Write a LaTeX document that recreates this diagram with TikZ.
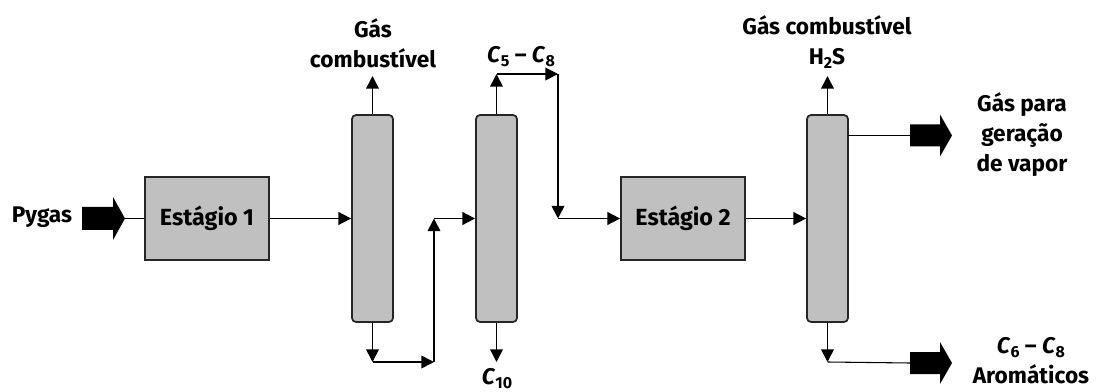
\documentclass[tikz,border=0pt]{standalone}
\usepackage{fontspec}
\setmainfont{Fira Sans}
\usetikzlibrary{arrows.meta}
\newcommand{\sbx}[1]{\raisebox{-0.18em}{\fontsize{12}{12}\selectfont #1}}
\begin{document}
\begin{tikzpicture}[x=0.75pt,y=-0.75pt,
  lbl/.style={font=\bfseries\fontsize{17}{22.5}\selectfont, align=center, inner sep=0pt},
  stagebox/.style={draw=black!85, line width=1.3pt, fill=boxgray,
    minimum width=93pt, minimum height=62.25pt, inner sep=0pt,
    font=\bfseries\fontsize{17.5}{20}\selectfont},
  column/.style={draw=black!85, line width=1.3pt, fill=boxgray, rounded corners=3pt,
    minimum width=30.75pt, minimum height=155.25pt, inner sep=0pt},
  flow/.style={line width=1.25pt, -{Triangle[length=9.5pt,width=9.5pt]}},
  thin/.style={line width=0.8pt},
  fatarrow/.style={fill=black}
]
\definecolor{boxgray}{RGB}{192,192,192}
\useasboundingbox (0,0) rectangle (1097,392);

% fat arrows
\fill[fatarrow] (82,207) -- (113,207) -- (113,197) -- (125,218.5) -- (113,240) -- (113,230) -- (82,230) -- cycle;
\coordinate (pyt) at (125,218.5);
\fill[fatarrow] (910,124.5) -- (940,124.5) -- (940,114.5) -- (952,135.5) -- (940,156.5) -- (940,146.5) -- (910,146.5) -- cycle;
\coordinate (fa1) at (910,135.5);
\fill[fatarrow] (910,352) -- (940,352) -- (940,342) -- (952,363) -- (940,384) -- (940,374) -- (910,374) -- cycle;
\coordinate (fa2) at (910,363);

% units
\node[stagebox] (st1) at (207,218.5) {Estágio 1};
\node[stagebox] (st2) at (683,218.5) {Estágio 2};
\node[column] (col1) at (372.5,218.5) {};
\node[column] (col2) at (496.5,218.5) {};
\node[column] (col3) at (827.5,218.5) {};

% labels
\node[lbl] (pyg) at (42,217) {Pygas};
\node[lbl] (gc1) at (373,43) {Gás\\combustível};
\node[lbl] (c58) at (521,57) {\textit{C}\sbx{5} – \textit{C}\sbx{8}};
\node[lbl] (c10) at (497,379) {\textit{C}\sbx{10}};
\node[lbl] (gc2) at (827,42) {Gás combustível\\H\sbx{2}S};
\node[lbl] (gpv) at (1022,135) {Gás para\\geração\\de vapor};
\node[lbl] (aro) at (1031,361) {\textit{C}\sbx{6} – \textit{C}\sbx{8}\\Aromáticos};

% coordinates
\coordinate (g1) at (372.5,76);
\coordinate (b1) at (372.5,362);
\coordinate (b2) at (434,362);
\coordinate (b3) at (434,218.5);
\coordinate (t1) at (496.5,74);
\coordinate (t2) at (558,74);
\coordinate (t3) at (558,218.5);
\coordinate (c10t) at (496.5,362);
\coordinate (g2) at (827.5,76);
\coordinate (s1) at (848,135.5);
\coordinate (d1) at (827.5,362);

% connectors
\draw[thin] (pyt) -- (st1.west);
\draw[flow] (st1.east) -- (col1.west);
\draw[flow] (col1.north) -- (g1);
\draw[flow] (col1.south) -- (b1);
\draw[flow] (b1) -- (b2);
\draw[flow] (b2) -- (b3);
\draw[flow] (b3) -- (col2.west);
\draw[flow] (col2.north) -- (t1);
\draw[flow] (t1) -- (t2);
\draw[flow] (t2) -- (t3);
\draw[flow] (t3) -- (st2.west);
\draw[flow] (col2.south) -- (c10t);
\draw[flow] (st2.east) -- (col3.west);
\draw[flow] (col3.north) -- (g2);
\draw[thin] (s1) -- (fa1);
\draw[flow] (col3.south) -- (d1);
\draw[thin] (d1) -- (fa2);
\end{tikzpicture}
\end{document}
